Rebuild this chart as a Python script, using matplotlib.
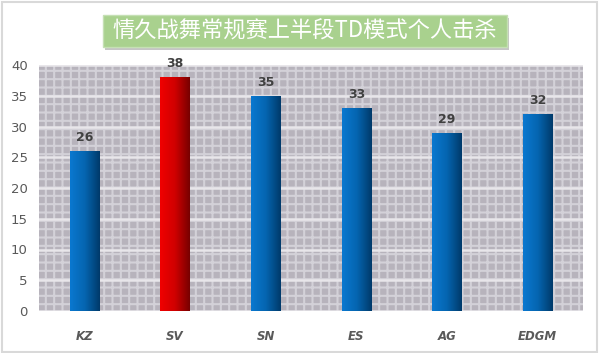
import matplotlib
matplotlib.use("Agg")
import matplotlib.pyplot as plt
import numpy as np
from matplotlib.patches import Rectangle
from matplotlib.colors import LinearSegmentedColormap

categories = ["KZ", "SV", "SN", "ES", "AG", "EDGM"]
values = [26, 38, 35, 33, 29, 32]
highlight = "SV"
title = "情久战舞常规赛上半段TD模式个人击杀"
yticks = [0, 5, 10, 15, 20, 25, 30, 35, 40]

plt.rcParams['font.family'] = ['Noto Sans CJK SC', 'DejaVu Sans']
plt.rcParams['hatch.color'] = '#d3d1d8'
plt.rcParams['hatch.linewidth'] = 1.5

fig = plt.figure(figsize=(6.0, 3.53), dpi=100)
fig.patch.set_facecolor('white')
fig.patches.append(Rectangle((0.003, 0.004), 0.992, 0.99, transform=fig.transFigure,
                             fill=False, edgecolor='#d9d9d9', linewidth=1.5))

ax = fig.add_axes([39/600, 1-311/353, 544/600, 246/353])
ax.set_facecolor('#b7b3bc')
ax.patch.set_hatch('++')
ax.patch.set_edgecolor('#d3d1d8')

x = np.arange(len(categories))
bars = ax.bar(x, values, width=0.32, color='none', zorder=3)

blue = LinearSegmentedColormap.from_list('b', ['#0a78d0', '#0565b0', '#003a6a'])
red = LinearSegmentedColormap.from_list('r', ['#f00000', '#d00000', '#780000'])
grad = np.linspace(0, 1, 100).reshape(1, -1)
for b, c in zip(bars, categories):
    cmap = red if c == highlight else blue
    bx, by = b.get_x(), b.get_y()
    im = ax.imshow(grad, cmap=cmap, aspect='auto', zorder=3,
                   extent=[bx, bx + b.get_width(), by, by + b.get_height()])
    im.set_clip_path(b)
    ax.text(bx + b.get_width()/2, b.get_height() + 2.2, str(int(b.get_height())),
            ha='center', va='center', fontsize=9, fontweight='bold', color='#404040',
            family=['DejaVu Sans'], zorder=5)

ax.set_xlim(-0.5, len(categories) - 0.5)
ax.set_ylim(0, 40)
ax.set_yticks(yticks)
ax.yaxis.grid(True, color='#e8e6ea', linewidth=1.8, zorder=1)
ax.set_axisbelow(True)
ax.set_xticks(x)
ax.set_xticklabels(categories, fontsize=8.5, fontstyle='italic', fontweight='bold',
                   color='#595959', family=['DejaVu Sans'])
for lbl in ax.get_yticklabels():
    lbl.set_fontsize(9.5)
    lbl.set_color('#595959')
    lbl.set_family(['DejaVu Sans'])
ax.tick_params(axis='both', length=0)
ax.tick_params(axis='x', pad=14)
ax.tick_params(axis='y', pad=8)
for s in ax.spines.values():
    s.set_visible(False)

bx0, by0, bw, bh = 103/600, 1-47/353, 404/600, 32/353
fig.patches.append(Rectangle((bx0 + 0.004, by0 - 0.008), bw, bh, transform=fig.transFigure,
                             facecolor='#8c8c8c', edgecolor='none', alpha=0.5))
fig.patches.append(Rectangle((bx0, by0), bw, bh, transform=fig.transFigure,
                             facecolor='#a9d18e', edgecolor='#c5e0b4', linewidth=1))
fig.text(bx0 + bw/2, by0 + bh/2, title, ha='center', va='center', fontsize=16,
         color='white', family=['Noto Sans CJK SC', 'DejaVu Sans'])

fig.savefig('out.png', dpi=100, facecolor='white')
